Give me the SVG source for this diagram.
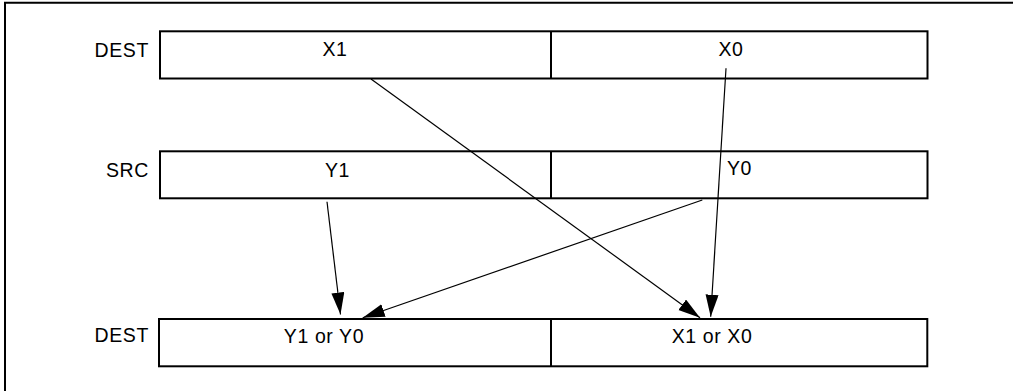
<svg xmlns="http://www.w3.org/2000/svg" width="1013" height="391" viewBox="0 0 1013 391">
<style>
.box{fill:#fff;stroke:#000;stroke-width:2}
.div{stroke:#000;stroke-width:2}
.t{font-family:"Liberation Sans",Arial,sans-serif;font-size:19.5px;fill:#000;letter-spacing:0.6px}
.lbl{text-anchor:end}
.c{text-anchor:middle}
.conn{stroke:#000;stroke-width:1.2;fill:none;marker-end:url(#ah)}
</style>
<defs>
<marker id="ah" markerUnits="userSpaceOnUse" markerWidth="24" markerHeight="14" refX="22" refY="6.5" orient="auto" viewBox="0 0 24 14">
<path d="M0,0 L22,6.5 L0,13 z" fill="#000"/>
</marker>
</defs>
<rect width="1013" height="391" fill="#fff"/>
<polyline points="5,391 5,2.7 1013,2.7" fill="none" stroke="#000" stroke-width="2"/>
<g id="dest-top">
<text class="t lbl" x="149" y="57">DEST</text>
<rect class="box" x="160" y="31.3" width="767.5" height="47.2"/>
<line class="div" x1="551" y1="31.3" x2="551" y2="78.5"/>
<text class="t c" x="335" y="56">X1</text>
<text class="t c" x="731" y="55.5">X0</text>
</g>
<g id="src">
<text class="t lbl" x="149" y="177">SRC</text>
<rect class="box" x="160" y="151.3" width="767.5" height="47"/>
<line class="div" x1="551" y1="151.3" x2="551" y2="198.3"/>
<text class="t c" x="337.5" y="176.5">Y1</text>
<text class="t c" x="739.5" y="175">Y0</text>
</g>
<g id="dest-bottom">
<text class="t lbl" x="149" y="342">DEST</text>
<rect class="box" x="159" y="319" width="768.3" height="47.3"/>
<line class="div" x1="551" y1="319" x2="551" y2="366.3"/>
<text class="t c" x="324" y="342.5">Y1 or Y0</text>
<text class="t c" x="712" y="342.5">X1 or X0</text>
</g>
<g id="connectors">
<line class="conn" x1="371" y1="79" x2="700" y2="317.7"/>
<line class="conn" x1="726" y1="68.3" x2="710.7" y2="316.7"/>
<line class="conn" x1="327" y1="201.7" x2="340.5" y2="314.5"/>
<line class="conn" x1="702.3" y1="200" x2="362.7" y2="317.7"/>
</g>
</svg>
